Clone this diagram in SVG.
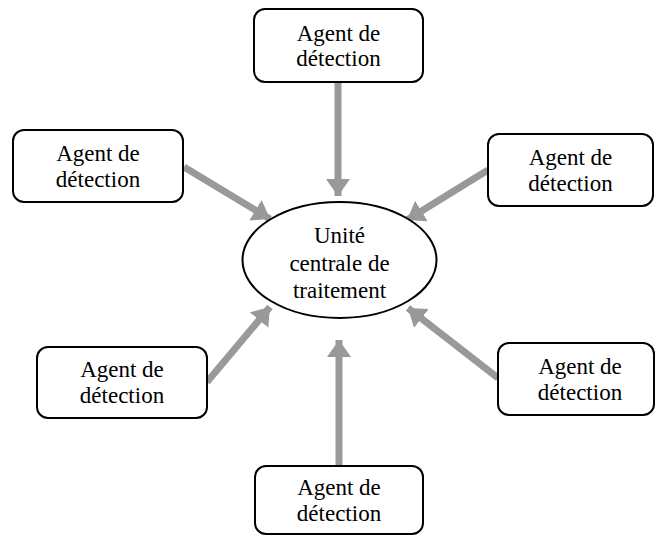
<svg xmlns="http://www.w3.org/2000/svg" width="656" height="538" viewBox="0 0 656 538">
  <style>
    .box { fill: #ffffff; stroke: #000000; stroke-width: 2; }
    .lbl { font-family: 'Liberation Serif', 'DejaVu Serif', serif; font-size: 23px; fill: #000000; text-anchor: middle; }
    .link { stroke: #999999; stroke-width: 7; fill: none; marker-end: url(#head); }
  </style>
  <defs>
    <marker id="head" markerUnits="userSpaceOnUse" markerWidth="18" markerHeight="26" refX="17" refY="12" orient="auto">
      <path d="M0,0 L17,12 L0,24 Z" fill="#999999"/>
    </marker>
  </defs>
  <rect width="656" height="538" fill="#ffffff"/>

  <g id="connectors">
    <line class="link" x1="338" y1="83" x2="338" y2="196"/>
    <line class="link" x1="184" y1="167" x2="270" y2="219"/>
    <line class="link" x1="488" y1="170" x2="407" y2="220"/>
    <line class="link" x1="207" y1="382" x2="270" y2="307"/>
    <line class="link" x1="498" y1="378" x2="408" y2="308"/>
    <line class="link" x1="339" y1="466" x2="339" y2="340"/>
  </g>

  <g id="agent-top">
    <rect class="box" x="254" y="9" width="169" height="73" rx="11"/>
    <text class="lbl" font-family="Liberation Serif" x="338.5" y="41">Agent de</text>
    <text class="lbl" font-family="Liberation Serif" x="338.5" y="66">détection</text>
  </g>
  <g id="agent-upper-left">
    <rect class="box" x="13" y="130" width="170" height="72" rx="11"/>
    <text class="lbl" font-family="Liberation Serif" x="98" y="161">Agent de</text>
    <text class="lbl" font-family="Liberation Serif" x="98" y="187">détection</text>
  </g>
  <g id="agent-upper-right">
    <rect class="box" x="488" y="134" width="165" height="72" rx="11"/>
    <text class="lbl" font-family="Liberation Serif" x="570.5" y="165">Agent de</text>
    <text class="lbl" font-family="Liberation Serif" x="570.5" y="191">détection</text>
  </g>
  <g id="agent-lower-left">
    <rect class="box" x="37" y="347" width="170" height="71" rx="11"/>
    <text class="lbl" font-family="Liberation Serif" x="122" y="377">Agent de</text>
    <text class="lbl" font-family="Liberation Serif" x="122" y="403">détection</text>
  </g>
  <g id="agent-lower-right">
    <rect class="box" x="498" y="343" width="156" height="72" rx="11"/>
    <text class="lbl" font-family="Liberation Serif" x="580" y="374">Agent de</text>
    <text class="lbl" font-family="Liberation Serif" x="580" y="400">détection</text>
  </g>
  <g id="agent-bottom">
    <rect class="box" x="255" y="466" width="168" height="68" rx="11"/>
    <text class="lbl" font-family="Liberation Serif" x="339" y="495">Agent de</text>
    <text class="lbl" font-family="Liberation Serif" x="339" y="521">détection</text>
  </g>

  <g id="central-unit">
    <ellipse class="box" cx="339.5" cy="260" rx="97" ry="58"/>
    <text class="lbl" font-family="Liberation Serif" x="339.5" y="243">Unité</text>
    <text class="lbl" font-family="Liberation Serif" x="339.5" y="271">centrale de</text>
    <text class="lbl" font-family="Liberation Serif" x="339.5" y="298">traitement</text>
  </g>
</svg>
